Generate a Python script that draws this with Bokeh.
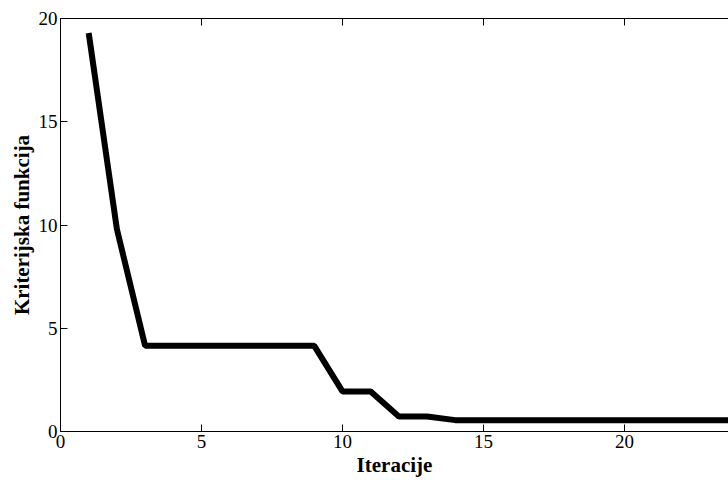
from bokeh.plotting import figure
from bokeh.models import LinearAxis, FixedTicker, Range1d, CustomLabelingPolicy
from bokeh.embed import file_html
from bokeh.resources import INLINE

iterations = [1, 2, 3, 4, 5, 6, 7, 8, 9, 10, 11, 12, 13, 14, 15, 16, 17, 18, 19, 20, 21, 22, 23, 24]
criterion = [19.3, 9.8, 4.15, 4.15, 4.15, 4.15, 4.15, 4.15, 4.15, 1.94, 1.94, 0.73, 0.73,
             0.55, 0.55, 0.55, 0.55, 0.55, 0.55, 0.55, 0.55, 0.55, 0.55, 0.55]
x_ticks = [0, 5, 10, 15, 20]
y_ticks = [0, 5, 10, 15, 20]

FONT = "Liberation Serif"

p = figure(width=728, height=480, output_backend="svg", toolbar_location=None,
           x_range=Range1d(0, 23.69), y_range=Range1d(0, 20),
           min_border_left=60, min_border_right=0, min_border_top=18, min_border_bottom=49)
p.outline_line_color = None
p.grid.visible = False
p.background_fill_color = "white"
p.border_fill_color = "white"
p.xaxis.visible = False
p.yaxis.visible = False

p.line(iterations, criterion, line_color="black", line_width=6)

bottom = LinearAxis(ticker=FixedTicker(ticks=x_ticks), axis_label="Iteracije")
left = LinearAxis(ticker=FixedTicker(ticks=y_ticks), axis_label="Kriterijska funkcija")
top = LinearAxis(ticker=FixedTicker(ticks=x_ticks),
                 major_label_policy=CustomLabelingPolicy(
                     code="const all = [...indices]; for (const i of all) indices.unset(i)"))
p.add_layout(bottom, "below")
p.add_layout(left, "left")
p.add_layout(top, "above")

for ax in (bottom, left, top):
    ax.axis_line_color = "black"
    ax.axis_line_width = 1
    ax.major_tick_in = 7
    ax.major_tick_out = 0
    ax.minor_tick_line_color = None
    ax.major_tick_line_color = "black"
    ax.major_label_text_font = FONT
    ax.major_label_text_color = "black"
    ax.major_label_text_font_size = "19px"
    ax.axis_label_text_font = FONT
    ax.axis_label_text_font_style = "bold"
    ax.axis_label_text_color = "black"
    ax.axis_label_text_font_size = "21px"

top.major_label_standoff = 0
bottom.major_label_standoff = 3
left.major_label_standoff = 3
bottom.axis_label_standoff = 2
left.axis_label_standoff = 2

open("out.html", "w").write(file_html(p, INLINE))
